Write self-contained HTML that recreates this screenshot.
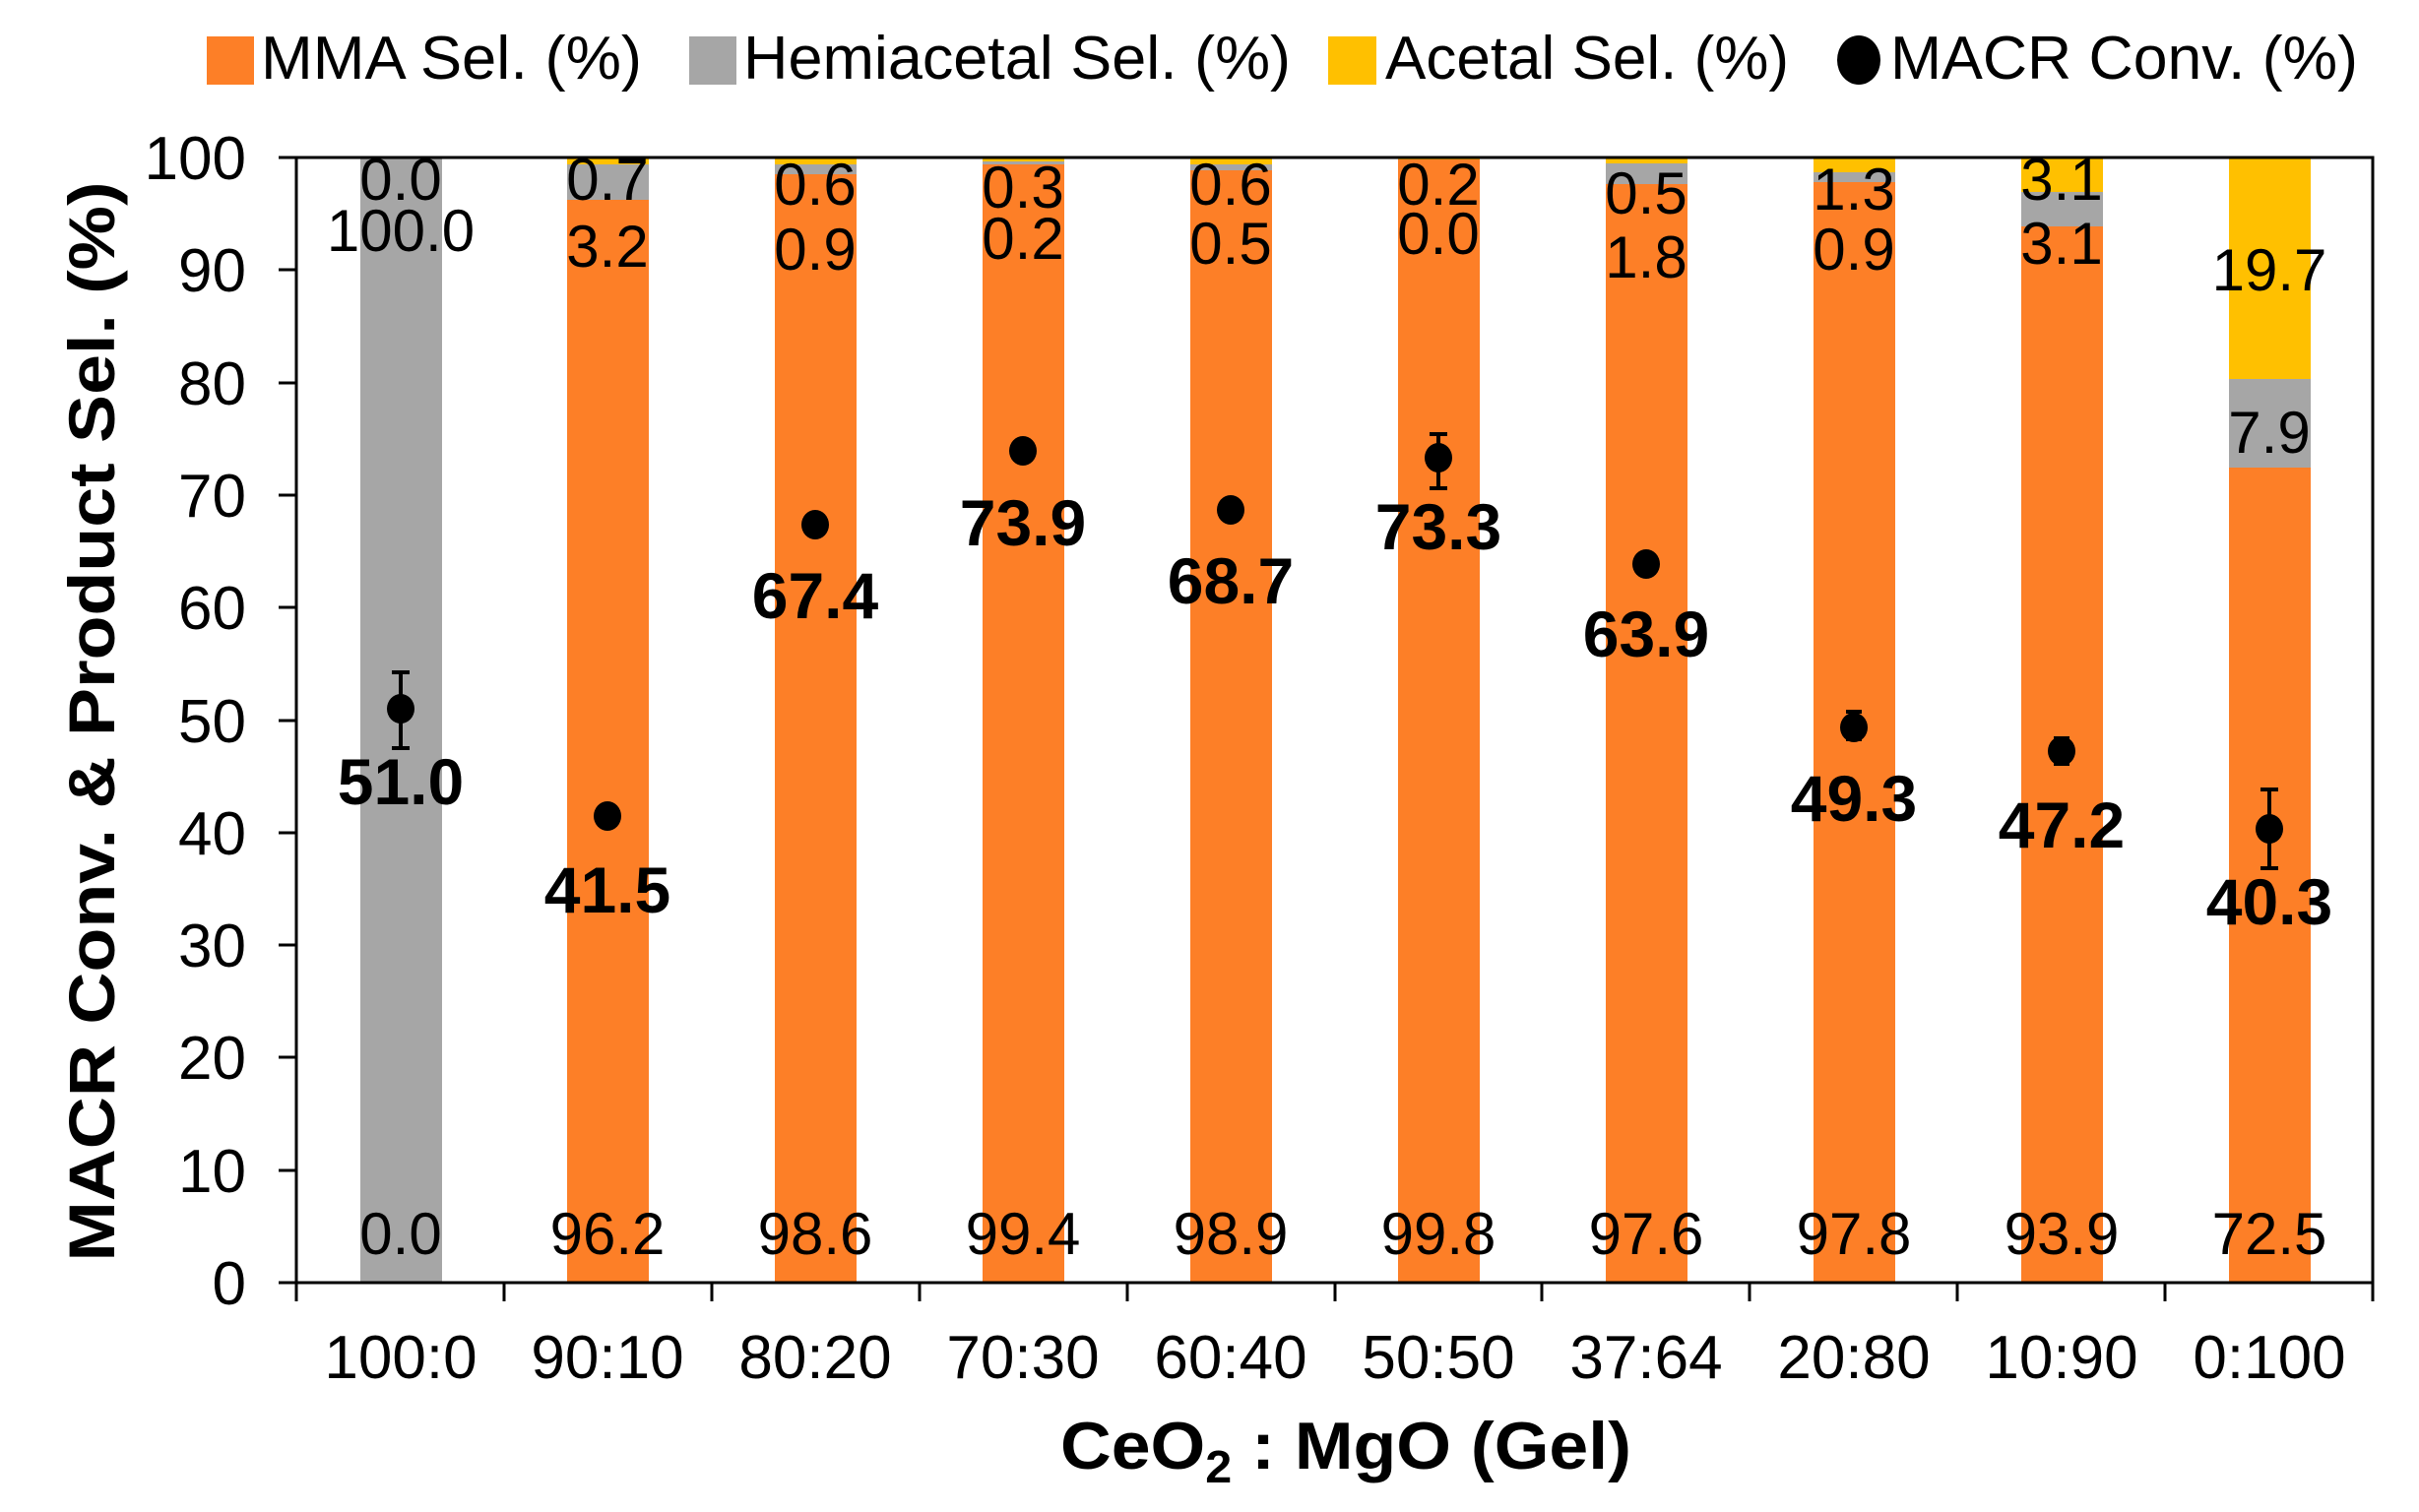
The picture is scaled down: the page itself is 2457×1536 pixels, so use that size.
<!DOCTYPE html>
<html><head><meta charset="utf-8"><style>
html,body{margin:0;padding:0;background:#fff;}
svg{display:block;}
text{font-family:"Liberation Sans",Arial,sans-serif;}
</style></head><body>
<svg width="2457" height="1536" viewBox="0 0 2457 1536" xmlns="http://www.w3.org/2000/svg">
<rect width="2457" height="1536" fill="#fff"/>
<!-- legend -->
<rect x="210" y="37" width="48" height="49" fill="#FD7F27"/>
<text x="265" y="80" font-size="62" textLength="387" lengthAdjust="spacingAndGlyphs">MMA Sel. (%)</text>
<rect x="700" y="37" width="48" height="49" fill="#A6A6A6"/>
<text x="755" y="80" font-size="62" textLength="556" lengthAdjust="spacingAndGlyphs">Hemiacetal Sel. (%)</text>
<rect x="1349" y="37" width="49" height="49" fill="#FFC000"/>
<text x="1407" y="80" font-size="62" textLength="410" lengthAdjust="spacingAndGlyphs">Acetal Sel. (%)</text>
<ellipse cx="1888" cy="61" rx="22" ry="25" fill="#000"/>
<text x="1920" y="80" font-size="62" textLength="475" lengthAdjust="spacingAndGlyphs">MACR Conv. (%)</text>

<!-- cat1 -->
<rect x="366" y="160" width="83" height="1143" fill="#A6A6A6"/>
<rect x="576" y="203" width="83" height="1100" fill="#FD7F27"/><rect x="576" y="166" width="83" height="37" fill="#A6A6A6"/><rect x="576" y="160" width="83" height="7" fill="#FFC000"/>
<rect x="787" y="176" width="83" height="1127" fill="#FD7F27"/><rect x="787" y="167" width="83" height="10" fill="#A6A6A6"/><rect x="787" y="160" width="83" height="7" fill="#FFC000"/>
<rect x="998" y="167" width="83" height="1136" fill="#FD7F27"/><rect x="998" y="164" width="83" height="3" fill="#A6A6A6"/><rect x="998" y="160" width="83" height="4" fill="#FFC000"/>
<rect x="1209" y="173" width="83" height="1130" fill="#FD7F27"/><rect x="1209" y="167" width="83" height="6" fill="#A6A6A6"/><rect x="1209" y="160" width="83" height="7" fill="#FFC000"/>
<rect x="1420" y="162" width="83" height="1141" fill="#FD7F27"/><rect x="1420" y="160" width="83" height="2" fill="#FFC000"/>
<rect x="1631" y="187" width="83" height="1116" fill="#FD7F27"/><rect x="1631" y="166" width="83" height="21" fill="#A6A6A6"/><rect x="1631" y="160" width="83" height="6" fill="#FFC000"/>
<rect x="1842" y="185" width="83" height="1118" fill="#FD7F27"/><rect x="1842" y="175" width="83" height="10" fill="#A6A6A6"/><rect x="1842" y="160" width="83" height="15" fill="#FFC000"/>
<rect x="2053" y="230" width="83" height="1073" fill="#FD7F27"/><rect x="2053" y="195" width="83" height="35" fill="#A6A6A6"/><rect x="2053" y="160" width="83" height="35" fill="#FFC000"/>
<rect x="2264" y="474" width="83" height="829" fill="#FD7F27"/><rect x="2264" y="385" width="83" height="90" fill="#A6A6A6"/><rect x="2264" y="160" width="83" height="225" fill="#FFC000"/>

<!-- axes -->
<g stroke="#000" stroke-width="3" fill="none">
<rect x="301" y="160" width="2109" height="1143"/>
<path d="M283 160H301M283 274H301M283 389H301M283 503H301M283 617H301M283 732H301M283 846H301M283 960H301M283 1074H301M283 1189H301M283 1303H301"/>
<path d="M301 1303V1322M512 1303V1322M723 1303V1322M934 1303V1322M1145 1303V1322M1356 1303V1322M1566 1303V1322M1777 1303V1322M1988 1303V1322M2199 1303V1322M2410 1303V1322"/>
</g>

<g font-size="62" text-anchor="end">
<text x="250" y="182">100</text><text x="250" y="296">90</text><text x="250" y="411">80</text><text x="250" y="525">70</text><text x="250" y="639">60</text><text x="250" y="754">50</text><text x="250" y="868">40</text><text x="250" y="982">30</text><text x="250" y="1096">20</text><text x="250" y="1211">10</text><text x="250" y="1325">0</text>
</g>
<g font-size="62" text-anchor="middle">
<text x="407" y="1400">100:0</text><text x="617" y="1400">90:10</text><text x="828" y="1400">80:20</text><text x="1039" y="1400">70:30</text><text x="1250" y="1400">60:40</text><text x="1461" y="1400">50:50</text><text x="1672" y="1400">37:64</text><text x="1883" y="1400">20:80</text><text x="2094" y="1400">10:90</text><text x="2305" y="1400">0:100</text>
</g>
<text x="1367" y="1492" font-size="68" font-weight="bold" text-anchor="middle" textLength="580" lengthAdjust="spacingAndGlyphs">CeO<tspan font-size="46" dy="14">2</tspan><tspan dy="-14"> : MgO (Gel)</tspan></text>
<text transform="translate(116,733) rotate(-90)" font-size="66" font-weight="bold" text-anchor="middle" textLength="1097" lengthAdjust="spacingAndGlyphs">MACR Conv. &amp; Product Sel. (%)</text>

<g font-size="60" text-anchor="middle">
<text x="407" y="203">0.0</text><text x="407" y="255">100.0</text>
<text x="617" y="203">0.7</text><text x="617" y="271">3.2</text>
<text x="828" y="208">0.6</text><text x="828" y="274">0.9</text>
<text x="1039" y="211">0.3</text><text x="1039" y="263">0.2</text>
<text x="1250" y="208">0.6</text><text x="1250" y="268">0.5</text>
<text x="1461" y="208">0.2</text><text x="1461" y="258">0.0</text>
<text x="1672" y="217">0.5</text><text x="1672" y="282">1.8</text>
<text x="1883" y="213">1.3</text><text x="1883" y="274">0.9</text>
<text x="2094" y="203">3.1</text><text x="2094" y="268">3.1</text>
<text x="2305" y="295">19.7</text><text x="2305" y="460">7.9</text>
<text x="407" y="1274">0.0</text><text x="617" y="1274">96.2</text><text x="828" y="1274">98.6</text><text x="1039" y="1274">99.4</text><text x="1250" y="1274">98.9</text><text x="1461" y="1274">99.8</text><text x="1672" y="1274">97.6</text><text x="1883" y="1274">97.8</text><text x="2094" y="1274">93.9</text><text x="2305" y="1274">72.5</text>
</g>

<g stroke="#000" stroke-width="4">
<path d="M407 683V760M398 683H416M398 760H416"/>
<path d="M1461 441V496M1452 441H1470M1452 496H1470"/>
<path d="M2305 802V882M2296 802H2314M2296 882H2314"/>
<path d="M1883 723V751M1875 723H1891M1875 751H1891"/>
<path d="M2094 750V776M2086 750H2102M2086 776H2102"/>
<path d="M1250 510V526M1242 510H1258M1242 526H1258"/>
</g>
<g fill="#000">
<ellipse cx="407" cy="720" rx="14" ry="15"/>
<ellipse cx="617" cy="829" rx="14" ry="15"/>
<ellipse cx="828" cy="533" rx="14" ry="15"/>
<ellipse cx="1039" cy="458" rx="14" ry="15"/>
<ellipse cx="1250" cy="518" rx="14" ry="15"/>
<ellipse cx="1461" cy="465" rx="14" ry="15"/>
<ellipse cx="1672" cy="573" rx="14" ry="15"/>
<ellipse cx="1883" cy="739" rx="14" ry="15"/>
<ellipse cx="2094" cy="763" rx="14" ry="15"/>
<ellipse cx="2305" cy="842" rx="14" ry="15"/>
</g>
<g font-size="66" font-weight="bold" text-anchor="middle">
<text x="407" y="817">51.0</text>
<text x="617" y="927">41.5</text>
<text x="828" y="628">67.4</text>
<text x="1039" y="554">73.9</text>
<text x="1250" y="613">68.7</text>
<text x="1461" y="558">73.3</text>
<text x="1672" y="667">63.9</text>
<text x="1883" y="834">49.3</text>
<text x="2094" y="861">47.2</text>
<text x="2305" y="939">40.3</text>
</g>
</svg>
</body></html>
